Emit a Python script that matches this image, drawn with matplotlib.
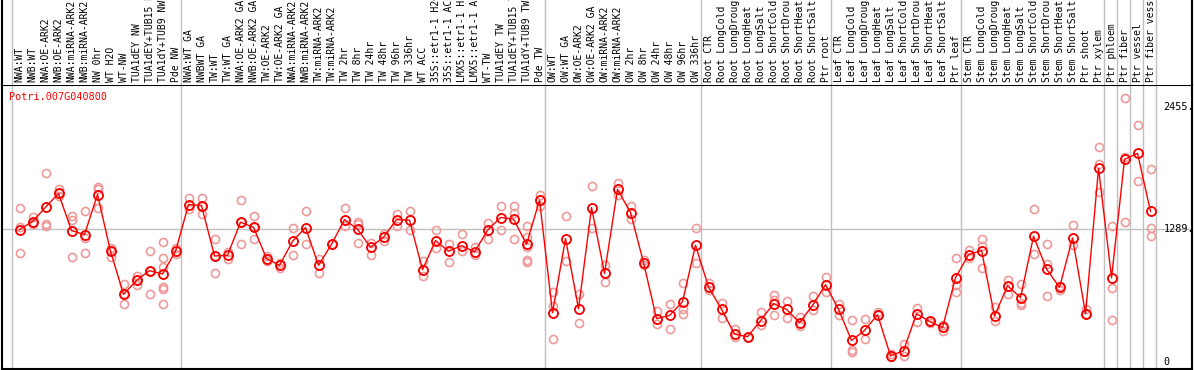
import matplotlib
matplotlib.use("Agg")
import matplotlib.pyplot as plt

# sample labels, left to right
labels = [
    "NWA:WT", "NWB:WT", "NWA:OE-ARK2", "NWB:OE-ARK2", "NWA:miRNA-ARK2",
    "NWB:miRNA-ARK2", "NW 0hr", "WT H2O", "WT-NW", "TUA1dEY NW",
    "TUA1dEY+TUB15 NW", "TUA1dY+TUB9 NW", "Pde NW", "NWA:WT GA", "NWBWT GA",
    "TW:WT", "TW:WT GA", "NWA:OE-ARK2 GA", "NWB:OE-ARK2 GA", "TW:OE-ARK2",
    "TW:OE-ARK2 GA", "NWA:miRNA-ARK2", "NWB:miRNA-ARK2", "TW:miRNA-ARK2",
    "TW:miRNA-ARK2", "TW 2hr", "TW 8hr", "TW 24hr", "TW 48hr", "TW 96hr",
    "TW 336hr", "WT ACC", "35S::etr1-1 H2O", "35S::etr1-1 ACC",
    "LMX5::etr1-1 H2O", "LMX5::etr1-1 ACC", "WT-TW", "TUA1dEY TW",
    "TUA1dEY+TUB15 TW", "TUA1dY+TUB9 TW", "Pde TW", "OW:WT", "OW:WT GA",
    "OW:OE-ARK2", "OW:OE-ARK2 GA", "OW:miRNA-ARK2", "OW:miRNA-ARK2", "OW 2hr",
    "OW 8hr", "OW 24hr", "OW 48hr", "OW 96hr", "OW 336hr",
    "Root CTR", "Root LongCold", "Root LongDrought", "Root LongHeat",
    "Root LongSalt", "Root ShortCold", "Root ShortDrought", "Root ShortHeat",
    "Root ShortSalt", "Ptr root",
    "Leaf CTR", "Leaf LongCold", "Leaf LongDrought", "Leaf LongHeat",
    "Leaf LongSalt", "Leaf ShortCold", "Leaf ShortDrought", "Leaf ShortHeat",
    "Leaf ShortSalt", "Ptr leaf",
    "Stem CTR", "Stem LongCold", "Stem LongDrought", "Stem LongHeat",
    "Stem LongSalt", "Stem ShortCold", "Stem ShortDrought", "Stem ShortHeat",
    "Stem ShortSalt", "Ptr shoot", "Ptr xylem", "Ptr phloem", "Ptr fiber",
    "Ptr vessel", "Ptr fiber vessel",
]

means = [
    1279, 1356, 1494, 1626, 1269, 1231, 1616, 1070, 655, 790,
    884, 851, 1070, 1520, 1510, 1025, 1031, 1350, 1301, 1000,
    935, 1166, 1298, 935, 1138, 1375, 1282, 1109, 1205, 1375,
    1369, 893, 1173, 1070, 1125, 1063, 1272, 1395, 1379, 1138,
    1562, 479, 1192, 517, 1491, 858, 1665, 1443, 961, 421,
    453, 585, 1128, 726, 511, 273, 248, 402, 566, 511,
    383, 549, 749, 511, 212, 308, 460, 64, 113, 469,
    395, 337, 816, 1038, 1077, 447, 739, 624, 1215, 899,
    723, 1198, 469, 1867, 816, 1954, 2012, 1453,
]

replicates = [
    [1491, 1304, 1051], [1401, 1330, 1340], [1819, 1337, 1311],
    [1671, 1600, 1626], [1414, 1369, 1019], [1453, 1195, 1057],
    [1684, 1665, 1491], [1105, 1019, 1070], [758, 559, 655],
    [832, 745, 790], [1076, 662, 884], [1163, 1009, 919, 726, 707, 559],
    [1099, 1041], [1584, 1472], [1581, 1433, 1510],
    [1186, 858, 1025], [1067, 1000], [1562, 1144, 1350],
    [1407, 1186, 1301], [1025, 980], [961, 912],
    [1292, 1031], [1456, 1144], [1000, 865],
    [1138], [1485, 1311], [1353, 1330, 1154],
    [1154, 1038], [1240, 1170], [1430, 1317],
    [1456, 1272], [974, 829], [1272, 1105],
    [1144, 971], [1234, 1073], [1112, 1035],
    [1343, 1186], [1504, 1272], [1504, 1443, 1186],
    [1311, 1208, 1112, 990, 971], [1613, 1510], [675, 540, 228],
    [1407, 980], [662, 383], [1694, 1292],
    [935, 774], [1723, 1610], [1504, 1385],
    [985, 940], [495, 373], [566, 318],
    [768, 518, 463], [1298, 961], [765, 694],
    [572, 427], [321, 244], [248],
    [485, 363], [649, 453, 600], [591, 427],
    [437, 347], [636, 501], [819, 678],
    [562, 460], [405, 122, 100], [415, 222],
    [485, 460], [80, 50], [174, 61],
    [527, 392], [395, 380], [357, 302],
    [1009, 742, 681], [1080, 1006], [1192, 1121, 913],
    [533, 398], [790, 662], [752, 572, 549],
    [1472, 1048], [1138, 945, 636], [740, 700],
    [1327, 1128], [518, 469], [2070, 1909, 1639],
    [1317, 720, 412], [2542, 1979, 1347], [2282, 1742],
    [1858, 1298, 1221],
]

# last sample index of each tissue / experiment block
group_ends = [0, 13, 41, 53, 63, 73, 84, 85, 86, 87, 88]

gene = "Potri.007G040800"
ytick_vals = [0, 1289, 2455]
ytick_text = ["0", "1289.", "2455."]

W, H = 1194, 370
font = "DejaVu Sans Mono"
fs = 7

fig = plt.figure(figsize=(W / 100, H / 100), dpi=100, facecolor="white")

x0, x1 = -0.385, 91.15
ax = fig.add_axes([1.5 / W, 1.5 / H, 1190 / W, 283.5 / H])
axl = fig.add_axes([1.5 / W, 285 / H, 1190 / W, 85 / H])

xs = list(range(1, len(labels) + 1))

for a in (ax, axl):
    a.set_xlim(x0, x1)
    a.set_xticks([])
    a.set_yticks([])
    for g in group_ends:
        a.axvline(g + 0.4, color="#c0c0c0", lw=1, zorder=0)
    for side, s in a.spines.items():
        s.set_visible(side in ("left", "right"))
        s.set_color("black")
        s.set_linewidth(1.5)

ax.set_ylim(-58, 2670)
axl.set_ylim(0, 1)
ax.spines["top"].set_visible(True)
ax.spines["bottom"].set_visible(True)
ax.axhline(ytick_vals[1], color="#c0c0c0", lw=1, zorder=0)

for x, reps in zip(xs, replicates):
    ax.plot([x] * len(reps), reps, "o", ms=5.8, mfc="none",
            mec="#ee9a9a", mew=1.2, zorder=2)

ax.plot(xs, means, "-", color="red", lw=1, zorder=3)
ax.plot(xs, means, "o", ms=6.5, mfc="none", mec="black", mew=0.6, zorder=4)
ax.plot(xs, means, "o", ms=6.5, mfc="none", mec="red", mew=1.3, zorder=5)

for x, lab in zip(xs, labels):
    axl.text(x, 0.035, lab, rotation=90, ha="center", va="bottom",
             family=font, fontsize=fs, color="black", clip_on=False)

ax.text(0.006, 0.975, gene, transform=ax.transAxes, ha="left", va="top",
        family=font, fontsize=fs + 0.3, color="red")

for v, t in zip(ytick_vals, ytick_text):
    ax.text(89.0, v, t, ha="left", va="center", family=font,
            fontsize=fs + 0.3, color="black")

fig.savefig("out.png", dpi=100, facecolor="white")
